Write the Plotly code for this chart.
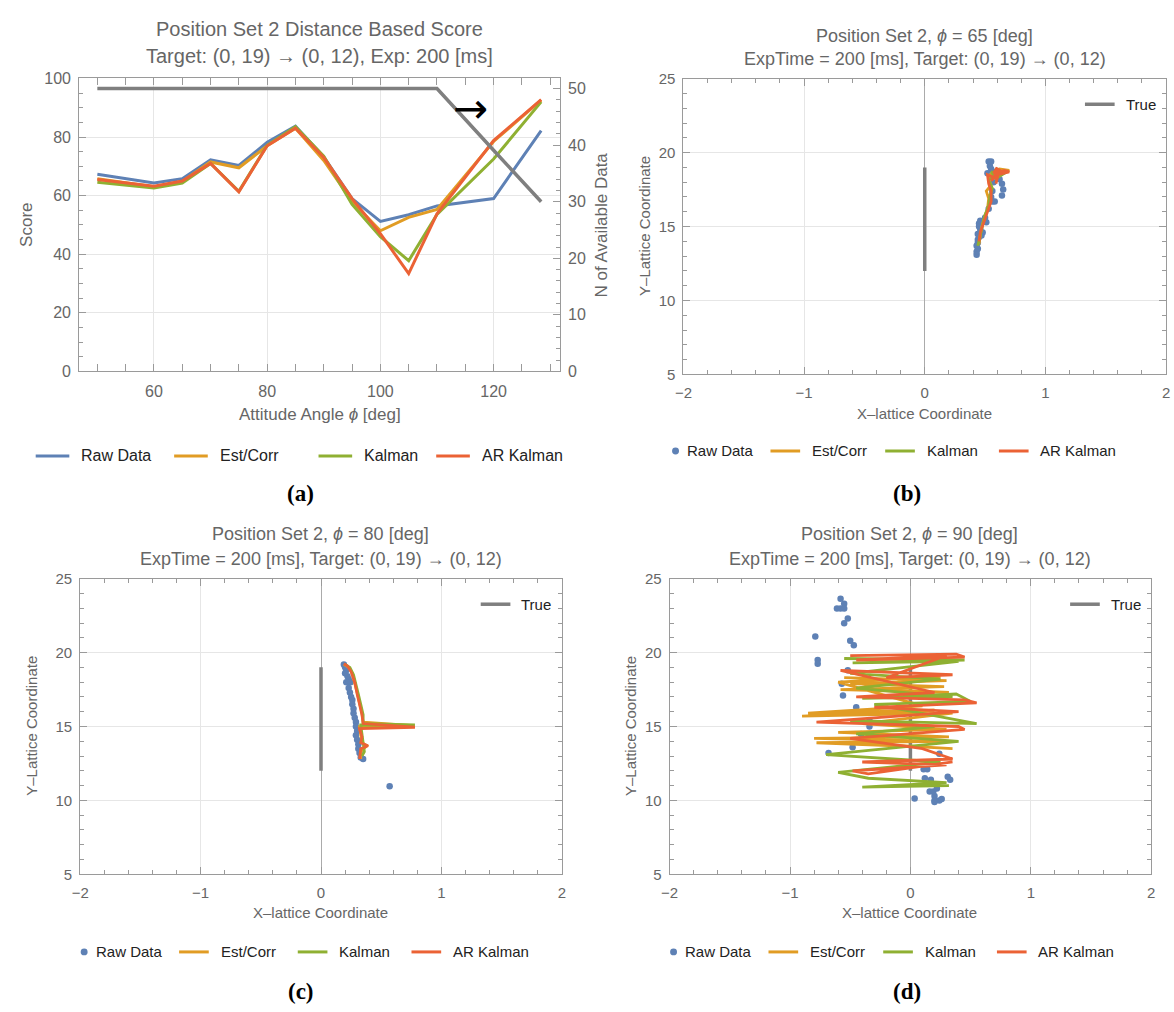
import plotly.graph_objects as go

W, H = 1174, 1012

BLUE = "#5E81B5"
ORANGE = "#E19C24"
GREEN = "#8FB032"
RED = "#EB6235"
GRAY = "#7F7F7F"
TEXT = "#666666"
FRAME = "#9A9A9A"
GRID = "#E6E6E6"
FONT = "Liberation Sans"

series_names = ["Raw Data", "Est/Corr", "Kalman", "AR Kalman"]

# ---- (a) distance based score versus attitude angle ----
angle = [50, 60, 65, 70, 75, 80, 85, 90, 95, 100, 105, 110, 120, 128.4]
score_raw = [67.3, 64.3, 65.8, 72.2, 70.3, 78.2, 83.7, 73.2, 59.0, 51.2, 53.5, 56.5, 59.0, 82.2]
score_est = [65.8, 63.0, 64.8, 71.5, 69.5, 77.0, 83.0, 72.0, 58.0, 48.0, 52.6, 55.3, 78.5, 92.6]
score_kal = [64.6, 62.6, 64.3, 71.0, 61.5, 77.2, 83.5, 73.5, 57.0, 46.0, 37.8, 53.6, 72.5, 92.0]
score_ar = [65.5, 63.2, 65.0, 71.0, 61.3, 77.0, 83.0, 73.0, 59.0, 47.0, 33.4, 53.8, 78.8, 92.8]
n_available = [50, 50, 50, 50, 50, 50, 50, 50, 50, 50, 50, 50, 39.1, 30]

# ---- (b) phi = 65 deg ----
b_raw_x = [0.43, 0.43, 0.44, 0.43, 0.44, 0.44, 0.45, 0.44, 0.47, 0.48, 0.46, 0.45, 0.45, 0.46,
           0.51, 0.50, 0.53, 0.56, 0.58, 0.55, 0.56, 0.64, 0.65, 0.64, 0.62, 0.60, 0.59, 0.55,
           0.54, 0.53, 0.55, 0.52, 0.57]
b_raw_y = [13.1, 13.3, 13.5, 13.7, 13.9, 14.1, 14.3, 14.5, 14.4, 14.6, 14.8, 15.0, 15.2, 15.4,
           15.3, 15.6, 16.2, 16.7, 16.7, 17.0, 17.4, 17.1, 17.5, 17.9, 18.2, 18.5, 18.7, 18.9,
           19.1, 19.4, 19.4, 18.6, 18.0]
b_est_x = [0.45, 0.46, 0.47, 0.49, 0.52, 0.53, 0.51, 0.55, 0.53, 0.58, 0.52, 0.62, 0.70, 0.57, 0.60]
b_est_y = [13.8, 14.3, 14.9, 15.5, 16.2, 16.9, 17.4, 17.8, 18.2, 18.6, 18.4, 18.9, 18.8, 18.3, 18.7]
b_kal_x = [0.44, 0.46, 0.48, 0.50, 0.53, 0.54, 0.56, 0.53, 0.57, 0.55, 0.62, 0.68, 0.58]
b_kal_y = [13.7, 14.4, 15.2, 15.8, 16.4, 17.1, 17.6, 18.1, 18.5, 18.7, 18.6, 18.7, 18.2]
b_ar_x = [0.45, 0.46, 0.49, 0.52, 0.55, 0.55, 0.53, 0.52, 0.58, 0.60, 0.57, 0.66, 0.70, 0.60,
          0.55, 0.62, 0.59]
b_ar_y = [14.0, 14.6, 15.3, 16.0, 16.7, 17.4, 17.9, 18.5, 18.3, 19.0, 18.6, 18.8, 18.7, 18.5,
          18.1, 18.9, 17.9]

# ---- (c) phi = 80 deg ----
c_raw_x = [0.19, 0.20, 0.21, 0.20, 0.22, 0.23, 0.21, 0.23, 0.245, 0.23, 0.24, 0.25, 0.26, 0.26,
           0.27, 0.27, 0.28, 0.29, 0.29, 0.30, 0.29, 0.30, 0.31, 0.31, 0.32, 0.33, 0.35, 0.57]
c_raw_y = [19.2, 19.0, 18.8, 18.6, 18.4, 18.2, 18.0, 18.0, 18.0, 17.6, 17.3, 17.0, 16.8, 16.5,
           16.2, 15.9, 15.6, 15.3, 15.0, 14.7, 14.4, 14.1, 13.8, 13.5, 13.2, 12.9, 12.8, 10.95]
c_est_x = [0.19, 0.23, 0.26, 0.28, 0.30, 0.32, 0.34, 0.35, 0.77, 0.32, 0.33, 0.34, 0.38, 0.33, 0.33]
c_est_y = [19.2, 19.0, 18.6, 18.0, 17.3, 16.6, 15.9, 15.3, 15.05, 15.0, 14.5, 13.9, 13.7, 13.3, 12.8]
c_kal_x = [0.20, 0.24, 0.27, 0.29, 0.31, 0.33, 0.35, 0.35, 0.78, 0.33, 0.34, 0.35, 0.36, 0.34]
c_kal_y = [19.2, 19.0, 18.5, 17.9, 17.2, 16.5, 15.8, 15.2, 15.1, 15.1, 14.4, 13.9, 13.3, 13.0]
c_ar_x = [0.19, 0.22, 0.25, 0.28, 0.30, 0.32, 0.34, 0.35, 0.78, 0.32, 0.34, 0.33, 0.39, 0.33, 0.32]
c_ar_y = [19.25, 19.1, 18.7, 18.0, 17.2, 16.5, 15.8, 15.2, 14.95, 14.85, 14.3, 13.9, 13.7, 13.5, 12.8]

# ---- (d) phi = 90 deg ----
d_raw_x = [-0.58, -0.55, -0.61, -0.58, -0.55, -0.52, -0.55, -0.79, -0.50, -0.47, -0.77, -0.77,
           -0.52, -0.57, -0.56, -0.45, -0.34, -0.34, -0.41, -0.38, -0.48, -0.68, 0.24, 0.11,
           0.14, 0.12, 0.17, 0.31, 0.33, 0.16, 0.19, 0.22, 0.20, 0.20, 0.24, 0.20, 0.035, 0.26]
d_raw_y = [23.65, 23.3, 22.98, 22.98, 22.98, 22.3, 21.98, 21.09, 20.8, 20.5, 19.5, 19.25,
           18.8, 17.9, 17.1, 16.3, 15.4, 15.0, 14.5, 14.0, 13.6, 13.2, 13.16, 12.1,
           12.1, 11.5, 11.4, 11.6, 11.4, 10.6, 10.6, 10.8, 10.3, 10.0, 10.0, 9.9, 10.13, 10.1]
d_est_x = [-0.55, 0.30, -0.50, 0.28, -0.58, 0.32, -0.45, 0.25, -0.60, 0.10, -0.85, 0.20,
           -0.90, 0.35, -0.40, 0.30, -0.60, 0.32, -0.80, 0.30, -0.78, 0.15, -0.30, 0.35]
d_est_y = [18.3, 18.1, 17.9, 17.7, 17.5, 17.3, 17.6, 18.4, 18.0, 16.4, 15.9, 16.1,
           15.7, 15.9, 15.2, 14.8, 14.6, 14.3, 14.2, 14.0, 13.9, 13.6, 13.8, 13.5]
d_kal_x = [-0.55, 0.45, -0.48, 0.40, -0.50, 0.25, -0.45, 0.35, -0.40, 0.38, 0.50, -0.30,
           0.55, -0.50, 0.20, -0.45, 0.40, -0.70, 0.25, -0.60, -0.35, 0.30, -0.40, 0.32]
d_kal_y = [19.6, 19.5, 19.3, 19.4, 18.6, 18.2, 17.6, 17.0, 16.9, 17.2, 16.7, 16.5,
           15.2, 15.4, 15.0, 14.5, 14.0, 13.1, 12.6, 11.9, 11.5, 11.2, 10.9, 11.0]
d_ar_x = [-0.50, 0.38, 0.45, -0.45, 0.30, -0.20, 0.35, -0.58, 0.20, -0.45, 0.45, 0.55, -0.30,
          0.40, -0.78, 0.40, 0.45, -0.50, 0.10, 0.35, -0.40, 0.30, -0.48, -0.35, 0.35]
d_ar_y = [19.8, 19.9, 19.7, 19.5, 19.8, 18.3, 18.5, 18.8, 17.3, 17.0, 16.8, 16.6, 16.3,
          16.0, 15.3, 15.0, 14.8, 14.2, 13.5, 12.8, 12.6, 12.4, 12.0, 11.8, 12.6]

true_x = [0, 0]
true_y = [12, 19]


def px(x):
    return x / W


def py(y):
    return 1 - y / H


fig = go.Figure()

# panel (a)
for ys, color in [(score_raw, BLUE), (score_est, ORANGE), (score_kal, GREEN), (score_ar, RED)]:
    fig.add_trace(go.Scatter(x=angle, y=ys, mode="lines", line=dict(color=color, width=3),
                             xaxis="x", yaxis="y", showlegend=False))
fig.add_trace(go.Scatter(x=angle, y=n_available, mode="lines", line=dict(color=GRAY, width=3.5),
                         xaxis="x", yaxis="y2", showlegend=False))

# panels (b), (c), (d)
panels = [
    ("x3", "y3", b_raw_x, b_raw_y, b_est_x, b_est_y, b_kal_x, b_kal_y, b_ar_x, b_ar_y),
    ("x4", "y4", c_raw_x, c_raw_y, c_est_x, c_est_y, c_kal_x, c_kal_y, c_ar_x, c_ar_y),
    ("x5", "y5", d_raw_x, d_raw_y, d_est_x, d_est_y, d_kal_x, d_kal_y, d_ar_x, d_ar_y),
]
for xa, ya, rx, ry, ex, ey, kx, ky, ax_, ay_ in panels:
    fig.add_trace(go.Scatter(x=true_x, y=true_y, mode="lines", line=dict(color=GRAY, width=3.5),
                             xaxis=xa, yaxis=ya, showlegend=False))
    fig.add_trace(go.Scatter(x=rx, y=ry, mode="markers", marker=dict(color=BLUE, size=6.5),
                             xaxis=xa, yaxis=ya, showlegend=False))
    for sx, sy, color in [(ex, ey, ORANGE), (kx, ky, GREEN), (ax_, ay_, RED)]:
        fig.add_trace(go.Scatter(x=sx, y=sy, mode="lines", line=dict(color=color, width=2.8),
                                 xaxis=xa, yaxis=ya, showlegend=False))


def xaxis(dom, anchor, rng, dtick, minor, fsize, zeroline=False):
    return dict(domain=dom, anchor=anchor, range=rng, dtick=dtick, tick0=0,
                ticks="inside", ticklen=7, tickwidth=1, tickcolor=FRAME,
                minor=dict(dtick=minor, ticks="inside", ticklen=4, tickcolor=FRAME, showgrid=False),
                showline=True, linecolor=FRAME, linewidth=1, mirror="allticks",
                showgrid=True, gridcolor=GRID, gridwidth=1,
                zeroline=zeroline, zerolinecolor="#ABABAB", zerolinewidth=1,
                tickfont=dict(family=FONT, size=fsize, color=TEXT),
                ticklabelstandoff=5, fixedrange=True)


def yaxis(dom, anchor, rng, dtick, minor, fsize, mirror="allticks"):
    return dict(domain=dom, anchor=anchor, range=rng, dtick=dtick, tick0=0,
                ticks="inside", ticklen=7, tickwidth=1, tickcolor=FRAME,
                minor=dict(dtick=minor, ticks="inside", ticklen=4, tickcolor=FRAME, showgrid=False),
                showline=True, linecolor=FRAME, linewidth=1, mirror=mirror,
                showgrid=True, gridcolor=GRID, gridwidth=1, zeroline=False,
                tickfont=dict(family=FONT, size=fsize, color=TEXT),
                ticklabelstandoff=4, fixedrange=True)


dom_a_x = [px(71), px(557)]
dom_a_y = [py(369), py(70.7)]
dom_b_x = [px(682), px(1170)]
dom_b_y = [py(372), py(71)]
dom_c_x = [px(72), px(559)]
dom_c_y = [py(881), py(580)]
dom_d_x = [px(668), px(1155)]
dom_d_y = [py(881), py(580)]

y2 = yaxis(dom_a_y, "x", [0, 51.8], 10, 2, 16, mirror=False)
y2.update(overlaying="y", side="right", showgrid=False)

fig.update_layout(
    width=W, height=H, margin=dict(l=0, r=0, t=0, b=0),
    paper_bgcolor="white", plot_bgcolor="white", showlegend=False,
    xaxis=xaxis(dom_a_x, "y", [46.8, 131.7], 20, 5, 16),
    yaxis=yaxis(dom_a_y, "x", [0, 100], 20, 5, 16, mirror=False),
    yaxis2=y2,
    xaxis3=xaxis(dom_b_x, "y3", [-2, 2], 1, 0.2, 15, zeroline=True),
    yaxis3=yaxis(dom_b_y, "x3", [5, 25], 5, 1, 15),
    xaxis4=xaxis(dom_c_x, "y4", [-2, 2], 1, 0.2, 15, zeroline=True),
    yaxis4=yaxis(dom_c_y, "x4", [5, 25], 5, 1, 15),
    xaxis5=xaxis(dom_d_x, "y5", [-2, 2], 1, 0.2, 15, zeroline=True),
    yaxis5=yaxis(dom_d_y, "x5", [5, 25], 5, 1, 15),
)

annotations = []
shapes = []


def text(x, y, s, size=16, color=TEXT, xanchor="center", angle=0, family=FONT):
    annotations.append(dict(x=px(x), y=py(y), xref="paper", yref="paper", text=s,
                            showarrow=False, xanchor=xanchor, yanchor="middle",
                            textangle=angle, font=dict(family=family, size=size, color=color)))


# titles
text(314, 20, "Position Set 2 Distance Based Score", size=20)
text(314, 48, "Target: (0, 19) \u2192 (0, 12), Exp: 200 [ms]", size=20)
text(926, 27, "Position Set 2, <i>\u03d5</i> = 65 [deg]", size=18)
text(926, 51, "ExpTime = 200 [ms], Target: (0, 19) \u2192 (0, 12)", size=18)
text(315, 534, "Position Set 2, <i>\u03d5</i> = 80 [deg]", size=18)
text(315, 560, "ExpTime = 200 [ms], Target: (0, 19) \u2192 (0, 12)", size=18)
text(911, 534, "Position Set 2, <i>\u03d5</i> = 90 [deg]", size=18)
text(911, 560, "ExpTime = 200 [ms], Target: (0, 19) \u2192 (0, 12)", size=18)

# axis titles
text(314, 413, "Attitude Angle <i>\u03d5</i> [deg]", size=17)
text(17, 220, "Score", size=17, angle=-90)
text(599, 220, "N of Available Data", size=17, angle=-90)
text(926, 412, "X\u2013lattice Coordinate", size=15)
text(642, 221, "Y\u2013Lattice Coordinate", size=15, angle=-90)
text(315, 920, "X\u2013lattice Coordinate", size=15)
text(22, 730, "Y\u2013Lattice Coordinate", size=15, angle=-90)
text(911, 920, "X\u2013lattice Coordinate", size=15)
text(628, 730, "Y\u2013Lattice Coordinate", size=15, angle=-90)

# arrow pointing to the right-hand axis
text(467, 101, "\u2192", size=42, color="black", family="DejaVu Sans")

# panel letters
for lx, ly, lab in [(295, 493, "(a)"), (908, 493, "(b)"), (295, 1000, "(c)"), (908, 1000, "(d)")]:
    text(lx, ly, "<b>" + lab + "</b>", size=23, color="black", family="Liberation Serif")

# "True" keys inside panels b, c, d
for lx, ly in [(1088, 97), (477, 606), (1073, 606)]:
    shapes.append(dict(type="line", xref="paper", yref="paper", x0=px(lx), x1=px(lx + 30),
                       y0=py(ly), y1=py(ly), line=dict(color=GRAY, width=3.5)))
    text(lx + 39, ly, "True", size=15, color="#222222", xanchor="left")

# bottom keys
colors = [BLUE, ORANGE, GREEN, RED]


def key_row(y, starts, dot_first, size, seg):
    for i, (x0, name, color) in enumerate(zip(starts, series_names, colors)):
        if i == 0 and dot_first:
            shapes.append(dict(type="circle", xref="paper", yref="paper",
                               x0=px(x0 - 3.5), x1=px(x0 + 3.5), y0=py(y + 3.5), y1=py(y - 3.5),
                               fillcolor=color, line=dict(width=0)))
            text(x0 + 10, y, name, size=size, color="#222222", xanchor="left")
        else:
            shapes.append(dict(type="line", xref="paper", yref="paper", x0=px(x0), x1=px(x0 + seg),
                               y0=py(y), y1=py(y), line=dict(color=color, width=3)))
            text(x0 + seg + 10, y, name, size=size, color="#222222", xanchor="left")


key_row(455, [27, 167, 313, 432], False, 16, 34)
key_row(450, [674, 770, 886, 1001], True, 15, 30)
key_row(960, [76, 172, 292, 407], True, 15, 30)
key_row(960, [672, 768, 884, 999], True, 15, 30)

fig.update_layout(annotations=annotations, shapes=shapes)

fig.write_html("out.html")
